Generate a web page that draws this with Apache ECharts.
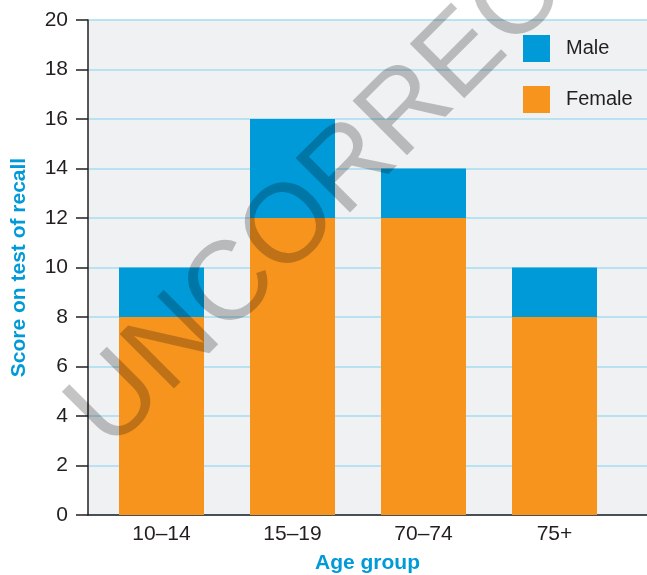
<!DOCTYPE html>
<html>
<head>
<meta charset="utf-8">
<script src="https://cdn.jsdelivr.net/npm/echarts@6/dist/echarts.min.js"></script>
<style>
  html, body { margin: 0; padding: 0; background: #ffffff; }
  #chart { width: 647px; height: 575px; }
</style>
</head>
<body>
<div id="chart"></div>
<script>
// Recall test scores by age group, split by sex
const categories = ['10–14', '15–19', '70–74', '75+'];
const femaleScores = [8, 12, 12, 8];
const maleExtra = [2, 4, 2, 2];   // male score minus female score, stacked on top
const yTicks = { min: 0, max: 20, step: 2 };

const FONT = '"Liberation Sans", Arial, sans-serif';
const INK = '#231f20';
const BLUE = '#009ad9';
const ORANGE = '#f7941d';

const chart = echarts.init(document.getElementById('chart'), null, { renderer: 'canvas' });

chart.setOption({
  animation: false,
  textStyle: { fontFamily: FONT },
  grid: [
    { left: 88, right: 0, top: 20, bottom: 60, show: true, backgroundColor: '#f0f1f3', borderWidth: 0, outerBoundsMode: 'none', containLabel: false },
    { left: 96, width: 524, top: 20, bottom: 60, outerBoundsMode: 'none', containLabel: false }
  ],
  legend: {
    orient: 'vertical',
    left: 523,
    top: 35,
    padding: 0,
    itemWidth: 27,
    itemHeight: 27,
    itemGap: 24,
    icon: 'rect',
    data: ['Male', 'Female'],
    textStyle: { fontSize: 20, color: INK, fontFamily: FONT, padding: [0, 0, 0, 11] }
  },
  xAxis: [
    {
      gridIndex: 0, type: 'value', min: 0, max: 1,
      axisLine: { show: true, onZero: false, lineStyle: { color: INK, width: 1.5 } },
      axisTick: { show: false }, axisLabel: { show: false }, splitLine: { show: false },
      name: 'Age group', nameLocation: 'middle', nameGap: 38,
      nameTextStyle: { color: BLUE, fontWeight: 'bold', fontSize: 21, fontFamily: FONT }
    },
    {
      gridIndex: 1, type: 'category', data: categories,
      axisLine: { show: false }, axisTick: { show: false },
      axisLabel: { fontSize: 21, color: INK, margin: 9, fontFamily: FONT }
    }
  ],
  yAxis: [
    {
      gridIndex: 0, type: 'value', min: yTicks.min, max: yTicks.max, interval: yTicks.step,
      axisLine: { show: true, lineStyle: { color: INK, width: 1.5 } },
      axisTick: { show: true, inside: false, length: 12, lineStyle: { color: INK, width: 1.5 } },
      axisLabel: { fontSize: 21, color: INK, margin: 20, fontFamily: FONT },
      splitLine: { show: true, lineStyle: { color: '#a6dbf1', width: 1.5 } },
      name: 'Score on test of recall', nameLocation: 'middle', nameGap: 58,
      nameTextStyle: { color: BLUE, fontWeight: 'bold', fontSize: 21, fontFamily: FONT }
    },
    {
      gridIndex: 1, type: 'value', min: yTicks.min, max: yTicks.max, show: false
    }
  ],
  series: [
    {
      name: 'Female', type: 'bar', stack: 'score',
      xAxisIndex: 1, yAxisIndex: 1, barWidth: 85,
      itemStyle: { color: ORANGE }, data: femaleScores
    },
    {
      name: 'Male', type: 'bar', stack: 'score',
      xAxisIndex: 1, yAxisIndex: 1, barWidth: 85,
      itemStyle: { color: BLUE }, data: maleExtra
    }
  ],
  graphic: [
    {
      type: 'text',
      x: 128, y: 470,
      rotation: Math.PI / 4,
      z: 100,
      silent: true,
      style: {
        text: 'UNCORRECTED',
        font: '112px "Liberation Sans", Arial, sans-serif',
        fill: 'rgba(0,0,0,0.23)',
        textAlign: 'left',
        textVerticalAlign: 'bottom'
      }
    }
  ]
});
</script>
</body>
</html>
